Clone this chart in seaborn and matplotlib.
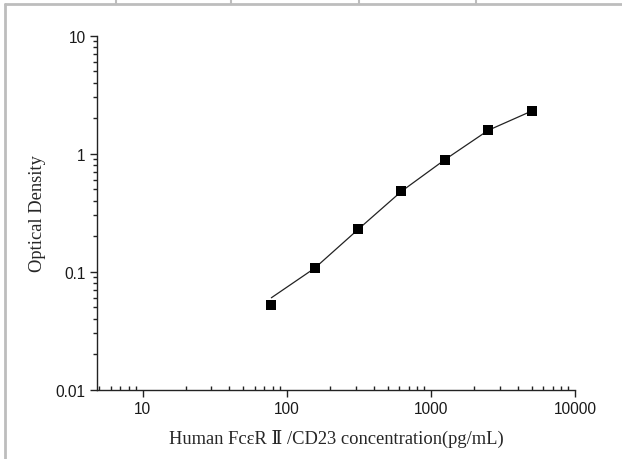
import numpy as np
import pandas as pd
import matplotlib
matplotlib.use("Agg")
import matplotlib.pyplot as plt
from matplotlib.lines import Line2D
from matplotlib.ticker import LogLocator, NullFormatter, FixedLocator, FixedFormatter
import seaborn as sns

# standard curve data
concentration = [78.125, 156.25, 312.5, 625, 1250, 2500, 5000]
optical_density = [0.052, 0.107, 0.228, 0.480, 0.890, 1.58, 2.30]
# fitted curve through the points (first value sits a bit above the first point)
fit_density = [0.060, 0.107, 0.228, 0.480, 0.890, 1.58, 2.30]

x_ticks = [10, 100, 1000, 10000]
x_labels = ["10", "100", "1000", "10000"]
y_ticks = [0.01, 0.1, 1, 10]
y_labels = ["0.01", "0.1", "1", "10"]

df = pd.DataFrame({"conc": concentration, "od": optical_density, "fit": fit_density})

sns.set_style("ticks")
plt.rcParams["font.family"] = ["Liberation Sans", "DejaVu Sans"]

fig = plt.figure(figsize=(6.22, 4.60), dpi=100)
ax = fig.add_axes([0.1555, 0.151, 0.769, 0.769])

sns.lineplot(data=df, x="conc", y="fit", ax=ax, color="#222222", linewidth=0.9)
sns.scatterplot(data=df, x="conc", y="od", ax=ax, marker="s", s=50,
                color="black", edgecolor="black", linewidth=0, zorder=3)

ax.set_xscale("log")
ax.set_yscale("log")
ax.set_xlim(4.8, 10000)
ax.set_ylim(0.01, 10)

ax.xaxis.set_major_locator(FixedLocator(x_ticks))
ax.xaxis.set_major_formatter(FixedFormatter(x_labels))
ax.yaxis.set_major_locator(FixedLocator(y_ticks))
ax.yaxis.set_major_formatter(FixedFormatter(y_labels))
ax.xaxis.set_minor_locator(LogLocator(base=10, subs=np.arange(2, 10)))
ax.yaxis.set_minor_locator(LogLocator(base=10, subs=np.arange(2, 10)))
ax.xaxis.set_minor_formatter(NullFormatter())
ax.yaxis.set_minor_formatter(NullFormatter())

# x: major ticks point down, minor ticks point up; y: all point left
ax.tick_params(axis="x", which="major", direction="out", length=5, width=1,
               labelsize=11.2, pad=3.5, colors="#222222", labelcolor="#1a1a1a")
ax.tick_params(axis="x", which="minor", direction="in", length=3, width=1, colors="#222222")
ax.tick_params(axis="y", which="major", direction="out", length=5, width=1,
               labelsize=11.2, pad=3, colors="#222222", labelcolor="#1a1a1a")
ax.tick_params(axis="y", which="minor", direction="out", length=3, width=1, colors="#222222")

for side in ["top", "right"]:
    ax.spines[side].set_visible(False)
for side in ["left", "bottom"]:
    ax.spines[side].set_linewidth(1)
    ax.spines[side].set_color("#222222")

serif = ["Liberation Serif", "DejaVu Serif"]
ax.set_xlabel("Human FcεR Ⅱ /CD23 concentration(pg/mL)", family=serif,
              fontsize=13.3, labelpad=9)
ax.set_ylabel("Optical Density", family=serif, fontsize=13.3, labelpad=7)

# remnants of the table frame around the picture
gray = "#bdbdbd"
W, H = 622, 460
fig.add_artist(Line2D([5 / W, 1], [1 - 5 / H, 1 - 5 / H], color=gray, lw=2))
fig.add_artist(Line2D([5 / W, 5 / W], [0, 1 - 5 / H], color=gray, lw=2))
for xp in [116, 231, 359, 476]:
    fig.add_artist(Line2D([xp / W, xp / W], [1 - 5 / H, 1], color=gray, lw=1.5))

fig.savefig("out.png", dpi=100)
